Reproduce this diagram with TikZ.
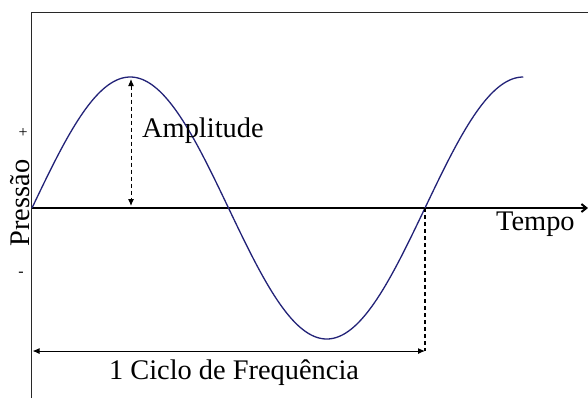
\documentclass[tikz,border=0pt]{standalone}
\usepackage{fontspec}
\setmainfont{Liberation Serif}
\usetikzlibrary{arrows.meta}
\definecolor{wave}{RGB}{35,35,120}
\definecolor{frame}{RGB}{40,40,40}
\tikzset{
  lbl/.style={font=\fontsize{28.5}{31}\selectfont, inner sep=0pt, text=black},
  sgn/.style={font=\fontsize{16}{18}\selectfont, inner sep=0pt},
  dimarrow/.style={line width=1bp, {Latex[length=7bp,width=6bp]}-{Latex[length=7bp,width=6bp]}},
}
\begin{document}
\begin{tikzpicture}[x=1bp,y=-1bp]
\useasboundingbox (0,0) rectangle (588,398);
\fill[white] (0,0) rectangle (588,398);
% frame
\draw[frame, line width=1.6bp] (31.5,398) -- (31.5,12.5) -- (588,12.5);
% axis
\coordinate (o) at (31.5,208);
\coordinate (xend) at (588,208);
\draw[line width=2bp, -{Straight Barb[length=5bp,width=8bp]}] (o) -- (xend);
% wave
\draw[wave, line width=1.3bp] plot[domain=0:450, samples=240] ({32+\x*1.091667},{208-131*sin(\x)});
% amplitude
\coordinate (ptop) at (131,79);
\coordinate (pbot) at (131,206);
\draw[dimarrow, dashed, dash pattern=on 4bp off 3bp] (ptop) -- (pbot);
\node[lbl, anchor=west] (amp) at (142,131) {Amplitude};
% cycle
\coordinate (c0) at (425,208);
\coordinate (c1) at (425,351);
\draw[line width=2.5bp, dash pattern=on 4bp off 3bp] (c0) -- (c1);
\coordinate (l0) at (32.5,351);
\draw[dimarrow] (l0) -- (c1);
\node[lbl] (cyc) at (234,373) {1 Ciclo de Frequência};
% labels
\node[lbl, anchor=north west] (tempo) at (496,212) {Tempo};
\node[lbl, rotate=90] (press) at (20,203) {Pressão};
\node[sgn] (plus) at (23,133) {+};
\node[sgn] (minus) at (21,274) {-};
\end{tikzpicture}
\end{document}
